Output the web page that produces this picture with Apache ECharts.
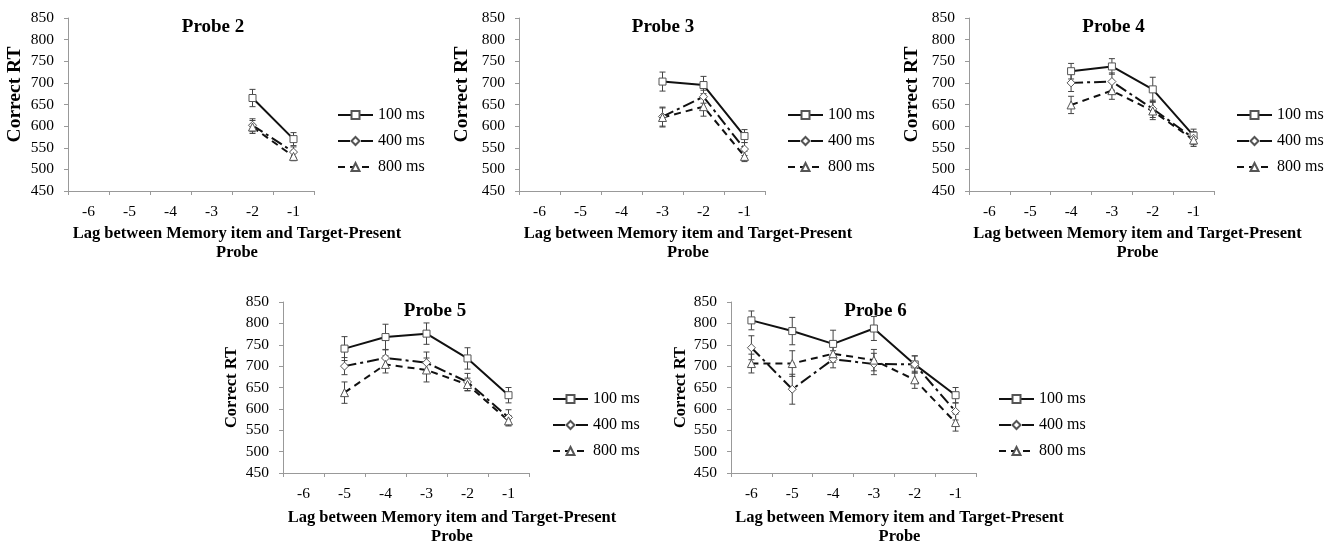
<!DOCTYPE html>
<html><head><meta charset="utf-8">
<script src="https://cdn.jsdelivr.net/npm/echarts@6/dist/echarts.min.js"></script>
<style>html,body{margin:0;padding:0;background:#fff}#c{width:1336px;height:543px}</style>
</head><body><div id="c"></div>
<script>
const lags = ['-6','-5','-4','-3','-2','-1'];
const yTicks = [450,500,550,600,650,700,750,800,850];
const seriesNames = ['100 ms','400 ms','800 ms'];
const panelTitles = ['Probe 2','Probe 3','Probe 4','Probe 5','Probe 6'];
const xAxisTitle = 'Lag between Memory item and Target-Present\nProbe';
const yAxisTitle = 'Correct RT';

// means (null = no data)
const p2_100 = [null,null,null,null,665,570];
const p2_400 = [null,null,null,null,602,540];
const p2_800 = [null,null,null,null,598,530];
const p3_100 = [null,null,null,703,695,577];
const p3_400 = [null,null,null,622,668,547];
const p3_800 = [null,null,null,620,645,530];
const p4_100 = [null,null,727,738,685,578];
const p4_400 = [null,null,700,703,640,572];
const p4_800 = [null,null,649,682,635,568];
const p5_100 = [null,741,768,776,718,632];
const p5_400 = [null,700,719,708,663,580];
const p5_800 = [null,638,704,691,657,572];
const p6_100 = [807,782,752,788,704,632];
const p6_400 = [743,646,716,705,704,594];
const p6_800 = [706,706,729,714,668,568];
// error bar half-widths
const p2_100e = [0,0,0,0,20,15];
const p2_400e = [0,0,0,0,15,12];
const p2_800e = [0,0,0,0,15,10];
const p3_100e = [0,0,0,22,20,15];
const p3_400e = [0,0,0,22,15,15];
const p3_800e = [0,0,0,22,22,12];
const p4_100e = [0,0,18,18,28,15];
const p4_400e = [0,0,20,20,20,15];
const p4_800e = [0,0,20,20,20,15];
const p5_100e = [0,28,30,25,25,18];
const p5_400e = [0,20,20,25,20,18];
const p5_800e = [0,25,20,28,15,12];
const p6_100e = [22,32,32,28,20,18];
const p6_400e = [28,35,20,25,20,20];
const p6_800e = [22,30,20,25,20,20];

const means = [[p2_100,p2_400,p2_800],[p3_100,p3_400,p3_800],[p4_100,p4_400,p4_800],[p5_100,p5_400,p5_800],[p6_100,p6_400,p6_800]];
const errs = [[p2_100e,p2_400e,p2_800e],[p3_100e,p3_400e,p3_800e],[p4_100e,p4_400e,p4_800e],[p5_100e,p5_400e,p5_800e],[p6_100e,p6_400e,p6_800e]];

const grids = [
  {left:68, top:18, width:246, height:173},
  {left:519, top:18, width:246, height:173},
  {left:969, top:18, width:245, height:173},
  {left:283, top:302, width:246, height:171},
  {left:731, top:302, width:245, height:171}
];
const legendPos = [
  {left:332, top:102},{left:782, top:102},{left:1231, top:102},
  {left:547, top:386},{left:993, top:386}
];
const titleOffsets = [17,16,17,24,17];
const yNameGaps = [43,47,47,43,42];
const yNameShift = [20,20,20,0,0];
const yNameSizes = [19.5,19.5,19.5,16.5,16.5];
const xNameGaps = [33,33,33,35,35];

const FONT = '"Liberation Serif", "Times New Roman", serif';
const symbols = ['rect','diamond','triangle'];
const lineTypes = ['solid',[12,4,3,4],[7,5]];

const option = {
  animation:false,
  backgroundColor:'#fff',
  textStyle:{fontFamily:FONT},
  grid: grids.map(g=>Object.assign({containLabel:false, outerBoundsMode:'none'}, g)),
  title: grids.map((g,i)=>({
    text: panelTitles[i],
    left: g.left + g.width/2 + titleOffsets[i],
    top: g.top - 5,
    textAlign:'center',
    textStyle:{fontFamily:FONT,fontWeight:'bold',fontSize:19,color:'#000'}
  })),
  legend: legendPos.map((p,i)=>({
    data: seriesNames, orient:'vertical', left:p.left, top:p.top,
    itemWidth:35, itemHeight:10, itemGap:10,
    textStyle:{fontFamily:FONT,fontSize:16,color:'#000'},
    selectedMode:false
  })),
  xAxis: grids.map((g,i)=>({
    gridIndex:i, type:'category', data:lags, boundaryGap:true,
    axisLine:{lineStyle:{color:'#999',width:1}},
    axisTick:{show:true,length:4,lineStyle:{color:'#999'}},
    axisLabel:{color:'#000',fontSize:15.5,fontFamily:FONT,margin:13},
    name:xAxisTitle, nameLocation:'middle', nameGap:xNameGaps[i],
    nameTextStyle:{fontFamily:FONT,fontWeight:'bold',fontSize:16.5,color:'#000',lineHeight:19,padding:[0,0,0,92]}
  })),
  yAxis: grids.map((g,i)=>({
    gridIndex:i, type:'value', min:450, max:850, interval:50,
    splitLine:{show:false},
    axisLine:{show:true,lineStyle:{color:'#999',width:1}},
    axisTick:{show:true,length:4,lineStyle:{color:'#999'}},
    axisLabel:{color:'#000',fontSize:15.5,fontFamily:FONT,margin:14},
    name:yAxisTitle, nameLocation:'middle', nameGap:yNameGaps[i], nameRotate:90,
    nameTextStyle:{fontFamily:FONT,fontWeight:'bold',fontSize:yNameSizes[i],color:'#000',padding:[0,0,0,yNameShift[i]]}
  })),
  series: []
};

means.forEach((panel,pi)=>{
  panel.forEach((vals,si)=>{
    const e = errs[pi][si];
    const bars = [];
    vals.forEach((v,k)=>{ if(v!==null) bars.push([k, v - e[k], v + e[k]]); });
    option.series.push({
      type:'custom', xAxisIndex:pi, yAxisIndex:pi, z:1, silent:true,
      name:'err'+pi+si,
      data:bars, encode:{x:0,y:[1,2]},
      renderItem:(params,api)=>{
        const lo = api.coord([api.value(0), api.value(1)]);
        const hi = api.coord([api.value(0), api.value(2)]);
        const w = 3;
        const st = {stroke:'#444', lineWidth:1};
        return {type:'group',children:[
          {type:'line',shape:{x1:lo[0],y1:lo[1],x2:hi[0],y2:hi[1]},style:st},
          {type:'line',shape:{x1:lo[0]-w,y1:lo[1],x2:lo[0]+w,y2:lo[1]},style:st},
          {type:'line',shape:{x1:hi[0]-w,y1:hi[1],x2:hi[0]+w,y2:hi[1]},style:st}
        ]};
      }
    });
    option.series.push({
      type:'line', name:seriesNames[si], xAxisIndex:pi, yAxisIndex:pi, z:3,
      data:vals, connectNulls:false,
      symbol:symbols[si], symbolSize: si===0?7:8, showAllSymbol:true,
      lineStyle:{color:'#111', width:2, type:lineTypes[si]},
      itemStyle:{color:'#fff', borderColor:'#555', borderWidth:1}
    });
  });
});

const chart = echarts.init(document.getElementById('c'), null, {renderer:'canvas'});
chart.setOption(option);
</script></body></html>
